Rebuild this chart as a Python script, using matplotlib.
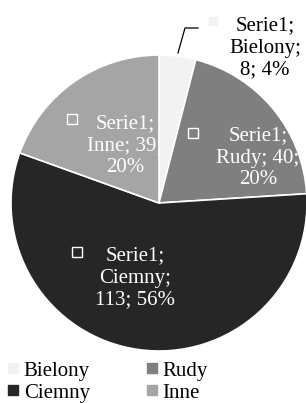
import matplotlib.pyplot as plt
from matplotlib.lines import Line2D

categories = ["Bielony", "Rudy", "Ciemny", "Inne"]
values = [8, 40, 113, 39]
percents = [4, 20, 56, 20]
series_name = "Serie1"
colors = ["#f2f2f2", "#7f7f7f", "#262626", "#a5a5a5"]

plt.rcParams['font.family'] = ['Liberation Serif', 'DejaVu Serif']

fig = plt.figure(figsize=(3.06, 4.03), dpi=100)
cx, cy, r = 159, 203, 148
W, H = 306, 403
ax = fig.add_axes([(cx - r) / W, (H - cy - r) / H, 2 * r / W, 2 * r / H])

wedges, _ = ax.pie(values, colors=colors, startangle=90, counterclock=False,
                   radius=1, wedgeprops=dict(edgecolor='white', linewidth=1.2))
for w in wedges:
    w.set_clip_on(False)
ax.set_xlim(-1, 1)
ax.set_ylim(-1, 1)
ax.axis('off')


def px(x, y):
    return (x - cx) / r, (cy - y) / r


fs = 15
# label positions in pixels (text center, marker)
label_pos = [(265, 48), (258, 158), (135, 278), (125, 146)]
marker_pos = [(213, 21), (193, 133), (77, 252), (72, 119)]
text_cols = ['black', 'white', 'white', 'white']
lines_txt = [
    f"{series_name};\n{categories[0]};\n{values[0]}; {percents[0]}%",
    f"{series_name};\n{categories[1]}; {values[1]};\n{percents[1]}%",
    f"{series_name};\n{categories[2]};\n{values[2]}; {percents[2]}%",
    f"{series_name};\n{categories[3]}; {values[3]};\n{percents[3]}%",
]
for i in range(4):
    tx, ty = px(*label_pos[i])
    ax.text(tx, ty, lines_txt[i], ha='center', va='center', fontsize=fs,
            color=text_cols[i], linespacing=1.2, clip_on=False)
    mx, my = px(*marker_pos[i])
    if i == 0:
        ax.plot(mx, my, marker='s', ms=6, mfc=colors[0], mec=colors[0], clip_on=False)
    else:
        ax.plot(mx, my, marker='s', ms=6.5, mfc='none', mec='white', mew=1, clip_on=False)

# leader line for Bielony
lx = [px(178, 53)[0], px(185, 28)[0], px(198, 28)[0]]
ly = [px(178, 53)[1], px(185, 28)[1], px(198, 28)[1]]
ax.plot(lx, ly, color='black', lw=0.9, clip_on=False)

handles = [Line2D([], [], marker='s', ls='none', ms=6.5, mfc=c, mec=c) for c in colors]
order = [0, 2, 1, 3]
fig.legend([handles[i] for i in order], [categories[i] for i in order], ncol=2,
           loc='upper left', bbox_to_anchor=(7 / W, 1 - 361 / H), frameon=False,
           fontsize=fs, handlelength=0.55, handletextpad=0.25, columnspacing=2.7,
           labelspacing=0.12, borderaxespad=0, borderpad=0.0)

fig.savefig('out.png', dpi=100)
